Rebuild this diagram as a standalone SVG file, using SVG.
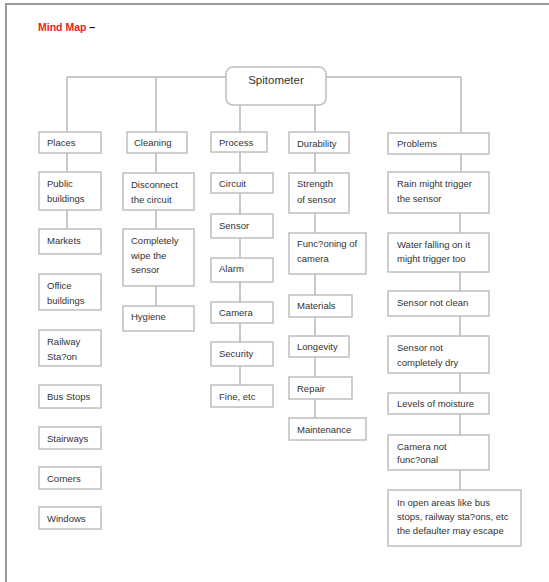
<svg xmlns="http://www.w3.org/2000/svg" width="549" height="582" viewBox="0 0 549 582">
<style>
  .bx{fill:#fff;stroke:#bfbfbf;stroke-width:1.5}
  .ln{stroke:#c8c8c8;stroke-width:2;fill:none}
  .t{font-family:"Liberation Sans",Arial,sans-serif;font-size:9.5px;fill:#333}
  .title{font-family:"Liberation Sans",Arial,sans-serif;font-size:10.5px;font-weight:bold}
</style>
<rect x="0" y="0" width="549" height="582" fill="#fff"/>
<g id="page-border" stroke="#9a9a9a" stroke-width="2" fill="none">
  <line x1="5" y1="4" x2="549" y2="4"/>
  <line x1="6" y1="3" x2="6" y2="582"/>
</g>
<g id="title">
  <text x="38" y="31" class="title"><tspan fill="#ee1c25">Mind Map</tspan><tspan fill="#000"> –</tspan></text>
</g>
<g id="connectors" class="ln">
  <line x1="67" y1="77" x2="461" y2="77"/>
  <line x1="67" y1="77" x2="67" y2="229"/>
  <line x1="156" y1="77" x2="156" y2="306"/>
  <line x1="240" y1="105" x2="240" y2="385"/>
  <line x1="315" y1="105" x2="315" y2="418"/>
  <line x1="461" y1="77" x2="461" y2="172"/>
  <line x1="460" y1="172" x2="460" y2="490"/>
</g>
<g id="root">
  <rect class="bx" x="226" y="67" width="100" height="38" rx="7"/>
  <text x="276" y="84" class="t" style="font-size:11.5px" text-anchor="middle">Spitometer</text>
</g>
<g id="places"><rect class="bx" x="39" y="132" width="62" height="21"/><text class="t" x="47" y="146">Places</text></g>
<g id="public-buildings"><rect class="bx" x="39" y="172" width="62" height="38"/><text class="t" x="47" y="187">Public</text><text class="t" x="47" y="202">buildings</text></g>
<g id="markets"><rect class="bx" x="39" y="229" width="62" height="25"/><text class="t" x="47" y="244">Markets</text></g>
<g id="office-buildings"><rect class="bx" x="39" y="274" width="62" height="36"/><text class="t" x="47" y="288.5">Office</text><text class="t" x="47" y="303.5">buildings</text></g>
<g id="railway-station"><rect class="bx" x="39" y="330" width="62" height="36"/><text class="t" x="47" y="344.5">Railway</text><text class="t" x="47" y="359.5">Sta?on</text></g>
<g id="bus-stops"><rect class="bx" x="39" y="385" width="62" height="23"/><text class="t" x="47" y="399.5">Bus Stops</text></g>
<g id="stairways"><rect class="bx" x="39" y="427" width="62" height="22"/><text class="t" x="47" y="441.5">Stairways</text></g>
<g id="corners"><rect class="bx" x="39" y="467" width="62" height="22"/><text class="t" x="47" y="481.5">Corners</text></g>
<g id="windows"><rect class="bx" x="39" y="507" width="62" height="22"/><text class="t" x="47" y="521.5">Windows</text></g>

<g id="cleaning"><rect class="bx" x="127" y="132" width="60" height="21"/><text class="t" x="134" y="146">Cleaning</text></g>
<g id="disconnect"><rect class="bx" x="123" y="173" width="71" height="37"/><text class="t" x="131" y="187.5">Disconnect</text><text class="t" x="131" y="202.5">the circuit</text></g>
<g id="wipe"><rect class="bx" x="123" y="229" width="71" height="57"/><text class="t" x="131" y="243.5">Completely</text><text class="t" x="131" y="258.5">wipe the</text><text class="t" x="131" y="273">sensor</text></g>
<g id="hygiene"><rect class="bx" x="123" y="306" width="71" height="25"/><text class="t" x="131" y="319.5">Hygiene</text></g>

<g id="process"><rect class="bx" x="211" y="132" width="56" height="20"/><text class="t" x="219" y="145.5">Process</text></g>
<g id="circuit"><rect class="bx" x="211" y="173" width="62" height="20"/><text class="t" x="219" y="186.5">Circuit</text></g>
<g id="sensor"><rect class="bx" x="211" y="214" width="62" height="24"/><text class="t" x="219" y="228.5">Sensor</text></g>
<g id="alarm"><rect class="bx" x="211" y="258" width="62" height="24"/><text class="t" x="219" y="271.5">Alarm</text></g>
<g id="camera"><rect class="bx" x="211" y="302" width="62" height="21"/><text class="t" x="219" y="315.5">Camera</text></g>
<g id="security"><rect class="bx" x="211" y="342" width="62" height="24"/><text class="t" x="219" y="356.5">Security</text></g>
<g id="fine"><rect class="bx" x="211" y="385" width="62" height="22"/><text class="t" x="219" y="399.5">Fine, etc</text></g>

<g id="durability"><rect class="bx" x="289" y="132" width="60" height="21"/><text class="t" x="297" y="146.5">Durability</text></g>
<g id="strength"><rect class="bx" x="289" y="173" width="60" height="40"/><text class="t" x="297" y="186.5">Strength</text><text class="t" x="297" y="202.5">of sensor</text></g>
<g id="functioning"><rect class="bx" x="289" y="233" width="77" height="41"/><text class="t" x="297" y="246.5">Func?oning of</text><text class="t" x="297" y="261.5">camera</text></g>
<g id="materials"><rect class="bx" x="289" y="295" width="63" height="22"/><text class="t" x="297" y="308.5">Materials</text></g>
<g id="longevity"><rect class="bx" x="289" y="336" width="60" height="21"/><text class="t" x="297" y="349.5">Longevity</text></g>
<g id="repair"><rect class="bx" x="289" y="377" width="63" height="22"/><text class="t" x="297" y="391.5">Repair</text></g>
<g id="maintenance"><rect class="bx" x="289" y="418" width="77" height="22"/><text class="t" x="297" y="432.5">Maintenance</text></g>

<g id="problems"><rect class="bx" x="388" y="133" width="101" height="21"/><text class="t" x="397" y="146.5">Problems</text></g>
<g id="rain"><rect class="bx" x="388" y="172" width="101" height="41"/><text class="t" x="397" y="186.5">Rain might trigger</text><text class="t" x="397" y="201.5">the sensor</text></g>
<g id="water"><rect class="bx" x="388" y="233" width="101" height="39"/><text class="t" x="397" y="247.5">Water falling on it</text><text class="t" x="397" y="261.5">might trigger too</text></g>
<g id="not-clean"><rect class="bx" x="388" y="291" width="101" height="25"/><text class="t" x="397" y="305.5">Sensor not clean</text></g>
<g id="not-dry"><rect class="bx" x="388" y="336" width="101" height="37"/><text class="t" x="397" y="350.5">Sensor not</text><text class="t" x="397" y="365.5">completely dry</text></g>
<g id="moisture"><rect class="bx" x="388" y="393" width="101" height="21"/><text class="t" x="397" y="406.5">Levels of moisture</text></g>
<g id="camera-not"><rect class="bx" x="388" y="435" width="101" height="35"/><text class="t" x="397" y="449.5">Camera not</text><text class="t" x="397" y="463">func?onal</text></g>
<g id="open-areas"><rect class="bx" x="388" y="490" width="133" height="56"/><text class="t" x="397" y="505.5">In open areas like bus</text><text class="t" x="397" y="519.5">stops, railway sta?ons, etc</text><text class="t" x="397" y="534">the defaulter may escape</text></g>
</svg>
